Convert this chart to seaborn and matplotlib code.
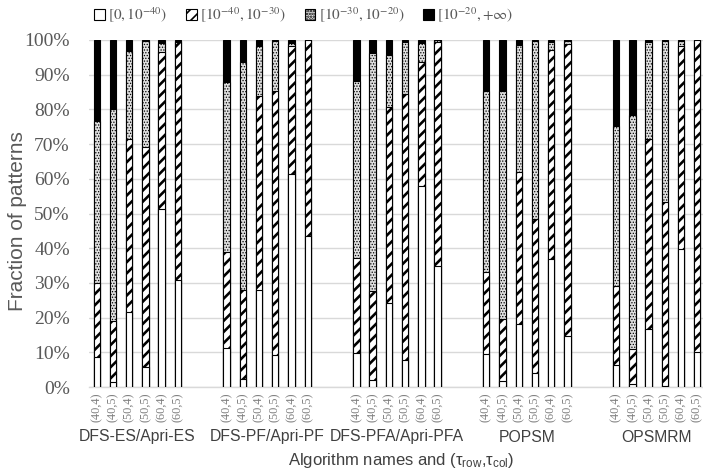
import matplotlib
matplotlib.use("Agg")
import matplotlib.pyplot as plt
import seaborn as sns
import pandas as pd
import numpy as np
from matplotlib.patches import Patch

# ---------------- data (percent of patterns) ----------------
algorithms = ["DFS-ES/Apri-ES", "DFS-PF/Apri-PF", "DFS-PFA/Apri-PFA", "POPSM", "OPSMRM"]
settings = ["(40,4)", "(40,5)", "(50,4)", "(50,5)", "(60,4)", "(60,5)"]
bins = [r"$[0,10^{-40})$", r"$[10^{-40},10^{-30})$", r"$[10^{-30},10^{-20})$", r"$[10^{-20},{+}\infty)$"]

# rows: algorithms, cols: settings
low = [  # [0, 1e-40)
    [8.6, 1.4, 21.6, 5.9, 51.4, 30.7],
    [11.2, 2.3, 28.0, 9.1, 61.5, 43.6],
    [9.8, 2.1, 24.1, 7.9, 58.0, 34.9],
    [9.6, 1.6, 18.1, 4.0, 36.9, 14.8],
    [6.2, 0.8, 16.8, 0.4, 39.7, 10.0],
]
mid_low = [  # [1e-40, 1e-30)
    [21.3, 17.7, 50.0, 63.3, 45.1, 68.6],
    [27.6, 25.7, 56.0, 76.1, 36.9, 56.4],
    [27.5, 25.6, 56.6, 76.6, 35.8, 64.6],
    [23.4, 18.0, 43.9, 44.3, 60.2, 84.1],
    [22.9, 10.2, 54.8, 52.8, 58.7, 90.0],
]
mid_high = [  # [1e-30, 1e-20)
    [46.7, 60.9, 25.1, 30.5, 2.6, 0.5],
    [49.0, 65.6, 14.2, 14.5, 0.7, 0.0],
    [51.0, 68.5, 15.0, 15.0, 5.2, 0.4],
    [52.2, 65.8, 36.7, 51.5, 2.4, 0.9],
    [46.1, 67.3, 27.7, 46.6, 1.4, 0.0],
]
high = [  # [1e-20, +inf)
    [23.4, 20.0, 3.3, 0.3, 0.9, 0.2],
    [12.2, 6.4, 1.8, 0.3, 0.9, 0.0],
    [11.7, 3.8, 4.3, 0.5, 1.0, 0.1],
    [14.8, 14.6, 1.3, 0.2, 0.5, 0.2],
    [24.8, 21.7, 0.7, 0.2, 0.2, 0.0],
]

# ---------------- table ----------------
SLOT = 8  # 6 bars + 2 empty slots per group
rows = []
for g, alg in enumerate(algorithms):
    for i, s in enumerate(settings):
        v = np.array([low[g][i], mid_low[g][i], mid_high[g][i], high[g][i]])
        c = np.cumsum(v)
        rows.append(dict(alg=alg, setting=s, pos=g * SLOT + i,
                         c1=c[0], c2=c[1], c3=c[2], c4=c[3]))
df = pd.DataFrame(rows)
n_slots = len(algorithms) * SLOT - 2

# ---------------- style ----------------
sns.set_theme(style="white")
plt.rcParams["font.family"] = ["Liberation Sans", "DejaVu Sans"]
plt.rcParams["mathtext.fontset"] = "stix"

W, H = 703, 474
fig = plt.figure(figsize=(W / 100, H / 100), dpi=100)
ax_left, ax_right, ax_top, ax_bot = 88.6, 705.4, 40, 387
ax = fig.add_axes([ax_left / W, 1 - ax_bot / H, (ax_right - ax_left) / W, (ax_bot - ax_top) / H])

grid_c = "#d9d9d9"
text_c = "#595959"
BW = 0.39
EDGE = 0.8

layers = [
    ("c4", "black", ""),
    ("c3", "#e0e0e0", "......"),
    ("c2", "white", "///"),
    ("c1", "white", ""),
]
for col, fc, hatch in layers:
    lw_h = 1.9 if hatch == "///" else 0.6
    with plt.rc_context({"hatch.linewidth": lw_h, "hatch.color": "black"}):
        before = len(ax.patches)
        sns.barplot(data=df, x="pos", y=col, native_scale=True, width=BW,
                    color=fc, saturation=1, edgecolor="black", linewidth=EDGE,
                    hatch=hatch if hatch else None, errorbar=None, ax=ax, zorder=3)
        for p in ax.patches[before:]:
            if hasattr(p, "set_hatch_linewidth"):
                p.set_hatch_linewidth(lw_h)

ax.set_xlim(-0.5, n_slots - 0.5)
ax.set_ylim(0, 100)
ax.set_xlabel("")
ax.set_ylabel("")

# y axis
yt = np.arange(0, 101, 10)
ax.set_yticks(yt)
ax.set_yticklabels([f"{v}%" for v in yt], family=["Liberation Serif", "DejaVu Serif"],
                   fontsize=14, color=text_c)
ax.tick_params(axis="y", length=0, pad=13.5)
ax.yaxis.grid(True, color=grid_c, linewidth=1, zorder=0)
ax.set_axisbelow(True)

# x axis
ax.set_xticks(df["pos"])
ax.set_xticklabels(df["setting"], rotation=90, family=["Liberation Serif", "DejaVu Serif"],
                   fontsize=8.8, color="#7f7f7f", va="top", ha="center")
ax.tick_params(axis="x", length=0, pad=4)

for s in ["top", "right", "left"]:
    ax.spines[s].set_visible(False)
ax.spines["bottom"].set_color(grid_c)
ax.spines["bottom"].set_linewidth(1)
ax.spines["bottom"].set_zorder(1)

# group labels
xtr = ax.get_xaxis_transform()
for g, alg in enumerate(algorithms):
    ax.text(g * SLOT + 2.5, (ax_bot - 437) / (ax_bot - ax_top), alg, transform=xtr,
            ha="center", va="center", fontsize=11.3, color="#404040")

# axis titles
fig.text(401 / W, 1 - 461 / H, r"Algorithm names and ($\mathregular{\tau_{row}}$,$\mathregular{\tau_{col}}$)",
         ha="center", va="center", fontsize=12, color="#404040")
fig.text(18 / W, 1 - 221 / H, "Fraction of patterns", rotation=90,
         ha="center", va="center", fontsize=15, color=text_c)

# legend
handles = []
for (col, fc, hatch) in reversed(layers):
    handles.append(Patch(facecolor=fc, edgecolor="black", hatch=hatch if hatch else None, linewidth=0.8))
with plt.rc_context({"hatch.linewidth": 1.2}):
    leg = fig.legend(handles, bins, loc="center left", bbox_to_anchor=(94 / W, 1 - 15 / H),
                     ncol=4, frameon=False, fontsize=11, handlelength=0.7, handleheight=0.7,
                     handletextpad=0.2, columnspacing=1.25, borderaxespad=0, borderpad=0)
for t in leg.get_texts():
    t.set_color(text_c)

fig.savefig("out.png", dpi=100)
